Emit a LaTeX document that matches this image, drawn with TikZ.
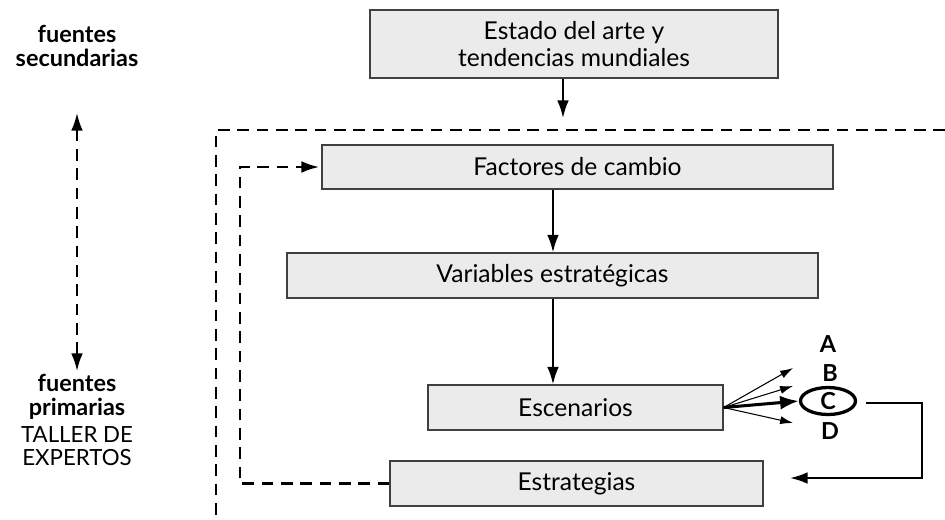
\documentclass[tikz,border=0pt]{standalone}
\usepackage{fontspec}
\setmainfont{Lato}
\usetikzlibrary{arrows.meta,shapes.geometric}
\begin{document}
\begin{tikzpicture}[x=0.03cm,y=-0.03cm]
            \tikzstyle{box} = [draw=black!75, fill=black!8, line width=1pt, font=\fontsize{21}{23}\selectfont, align=center]
            \tikzstyle{flow} = [line width=1.8pt, -{Latex[length=15pt,width=10pt]}]
            \tikzstyle{loop} = [line width=1.8pt, dash pattern=on 10pt off 6.5pt]
            \tikzstyle{side} = [font=\fontsize{20}{20}\selectfont\bfseries, align=center, inner sep=0pt]
            \tikzstyle{letter} = [font=\fontsize{20}{20}\selectfont\bfseries]
            \useasboundingbox (0,0) rectangle (945,519);

            \node[box, minimum width=12.24cm, minimum height=2.04cm] (arte) at (574,44) {Estado del arte y\\tendencias mundiales};
            \node[box, minimum width=15.33cm, minimum height=1.32cm] (fact) at (577.5,167) {Factores de cambio};
            \node[box, minimum width=15.93cm, minimum height=1.35cm] (var) at (552.5,275.5) {Variables estratégicas};
            \node[box, minimum width=8.85cm, minimum height=1.35cm] (esc) at (575.5,407.5) {Escenarios};
            \node[box, minimum width=11.19cm, minimum height=1.35cm] (estr) at (576.5,483.5) {Estrategias};

            % flechas principales
            \coordinate (ax) at (553,0);
            \coordinate (top) at (563,118);
            \draw[flow] (arte.south -| top) -- (top);
            \draw[flow] (fact.south -| ax) -- (var.north -| ax);
            \draw[flow] (var.south -| ax) -- (esc.north -| ax);

            % escenarios
            \node[letter] (A) at (828,344) {A};
            \node[letter] (B) at (830,373) {B};
            \node[letter] (D) at (830,431) {D};
            \node[ellipse, draw, line width=2.8pt, minimum width=1.65cm, minimum height=0.81cm, inner sep=0pt, letter] (C) at (828,401) {C};
            \coordinate (ta) at (793,368);
            \coordinate (tb) at (793,386);
            \coordinate (td) at (793,423);
            \draw[line width=0.9pt, -{Latex[length=11pt,width=7pt]}] (esc.east) -- (ta);
            \draw[line width=0.9pt, -{Latex[length=11pt,width=7pt]}] (esc.east) -- (tb);
            \draw[line width=0.9pt, -{Latex[length=11pt,width=7pt]}] (esc.east) -- (td);
            \draw[line width=2.6pt, -{Latex[length=16pt,width=12pt]}] (esc.east) -- (C.west);

            % retorno a estrategias
            \coordinate (cr) at (866,403);
            \coordinate (rx) at (922,0);
            \coordinate (back) at (790,478);
            \draw[flow] (cr) -- (cr -| rx) |- (back);

            % lazo punteado
            \coordinate (inx) at (240,0);
            \draw[loop, -{Latex[length=15pt,width=10pt]}] (estr.west) -- (estr.west -| inx) |- ([xshift=-2pt]fact.west);
            \coordinate (fr) at (945,130);
            \coordinate (fl) at (216,130);
            \coordinate (fb) at (216,519);
            \draw[loop] (fr) -- (fl) -- (fb);

            % fuentes
            \node[side] (sec) at (77,46) {fuentes\\secundarias};
            \node[side] (prim) at (77,397) {fuentes\\primarias};
            \node[side, font=\fontsize{19}{20}\selectfont] (taller) at (77,446) {TALLER DE\\EXPERTOS};
            \coordinate (su) at (77,113);
            \coordinate (sd) at (77,371);
            \draw[loop, {Latex[length=15pt,width=10pt]}-{Latex[length=15pt,width=10pt]}] (su) -- (sd);
\end{tikzpicture}
\end{document}
